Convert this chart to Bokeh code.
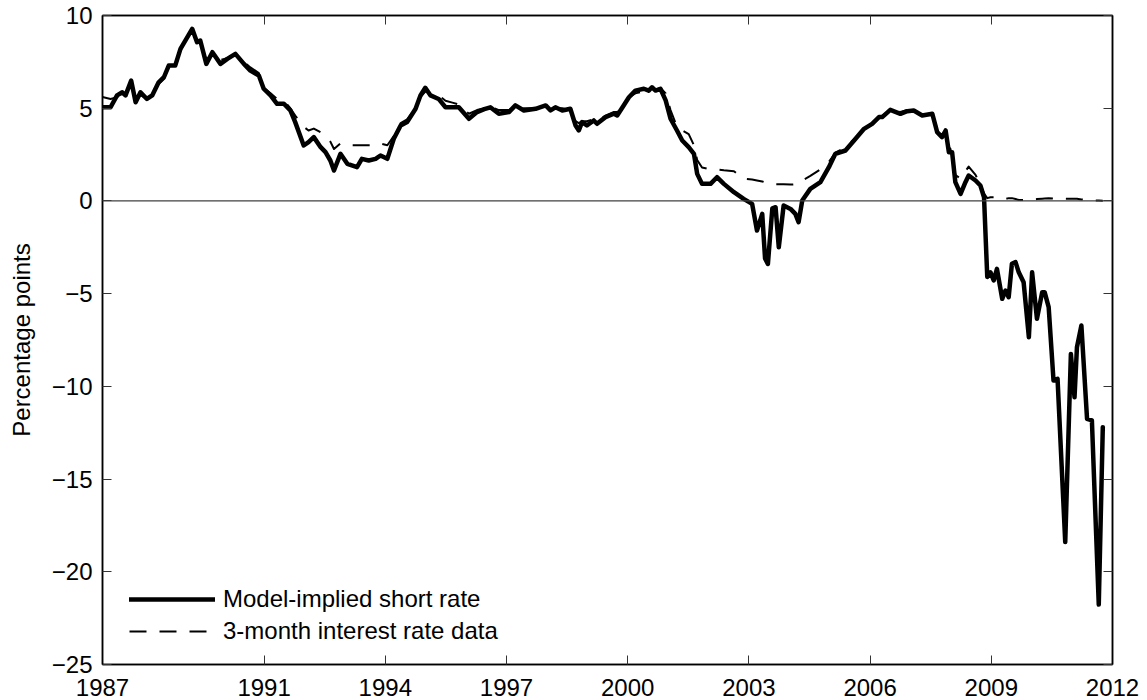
from bokeh.plotting import figure
from bokeh.models import FixedTicker, LinearAxis, Span, Legend, LegendItem, Range1d
from bokeh.embed import file_html
from bokeh.resources import INLINE

# ---------------- data ----------------
dates = [
    1987.00, 1987.20, 1987.36, 1987.49, 1987.57, 1987.71, 1987.82, 1987.94,
    1988.10, 1988.23, 1988.39, 1988.52, 1988.64, 1988.80, 1988.93, 1989.05,
    1989.22, 1989.34, 1989.42, 1989.57, 1989.72, 1989.92, 1990.09, 1990.29,
    1990.50, 1990.66, 1990.87, 1990.99, 1991.16, 1991.32, 1991.49, 1991.65,
    1991.77, 1991.98, 1992.10, 1992.23, 1992.40, 1992.52, 1992.64, 1992.73,
    1992.89, 1993.06, 1993.30, 1993.42, 1993.59, 1993.76, 1993.88, 1994.05,
    1994.21, 1994.38, 1994.54, 1994.75, 1994.87, 1994.99, 1995.12, 1995.32,
    1995.49, 1995.66, 1995.82, 1996.07, 1996.27, 1996.45, 1996.60, 1996.81,
    1997.06, 1997.22, 1997.43, 1997.72, 1997.97, 1998.09, 1998.21, 1998.38,
    1998.58, 1998.71, 1998.79, 1998.87, 1998.99, 1999.16, 1999.24, 1999.45,
    1999.66, 1999.74, 1999.90, 2000.03, 2000.19, 2000.40, 2000.52, 2000.60,
    2000.69, 2000.81, 2000.94, 2001.06, 2001.22, 2001.35, 2001.51, 2001.64,
    2001.72, 2001.84, 2002.05, 2002.21, 2002.38, 2002.63, 2002.87, 2003.08,
    2003.20, 2003.33, 2003.40, 2003.47, 2003.58, 2003.66, 2003.74, 2003.86,
    2004.03, 2004.15, 2004.23, 2004.32, 2004.52, 2004.77, 2004.98, 2005.14,
    2005.39, 2005.64, 2005.85, 2006.05, 2006.22, 2006.30, 2006.50, 2006.75,
    2006.92, 2007.08, 2007.29, 2007.54, 2007.66, 2007.78, 2007.87, 2007.95,
    2008.03, 2008.11, 2008.24, 2008.36, 2008.44, 2008.61, 2008.73, 2008.82,
    2008.90, 2008.98, 2009.06, 2009.14, 2009.27, 2009.35, 2009.43, 2009.51,
    2009.60, 2009.68, 2009.80, 2009.93, 2010.01, 2010.13, 2010.26, 2010.32,
    2010.42, 2010.54, 2010.64, 2010.83, 2010.97, 2011.06, 2011.12, 2011.23,
    2011.37, 2011.49, 2011.66, 2011.76,
]

model_rate = [
    5.05, 5.05, 5.69, 5.86, 5.69, 6.49, 5.32, 5.86,
    5.50, 5.69, 6.40, 6.67, 7.30, 7.30, 8.20, 8.65,
    9.28, 8.56, 8.65, 7.39, 8.02, 7.39, 7.66, 7.93,
    7.39, 7.03, 6.76, 6.05, 5.69, 5.24, 5.24, 4.88,
    4.25, 2.99, 3.17, 3.44, 2.90, 2.63, 2.18, 1.64,
    2.54, 2.00, 1.82, 2.27, 2.18, 2.27, 2.45, 2.27,
    3.35, 4.07, 4.25, 4.97, 5.69, 6.10, 5.69, 5.50,
    5.05, 5.05, 5.05, 4.43, 4.79, 4.95, 5.05, 4.70,
    4.79, 5.15, 4.88, 4.97, 5.15, 4.88, 5.05, 4.88,
    4.97, 4.07, 3.80, 4.25, 4.07, 4.34, 4.16, 4.52,
    4.70, 4.61, 5.15, 5.59, 5.95, 6.05, 5.95, 6.13,
    5.95, 6.05, 5.42, 4.43, 3.80, 3.26, 2.90, 2.54,
    1.46, 0.92, 0.92, 1.28, 0.92, 0.47, 0.11, -0.16,
    -1.60, -0.70, -3.10, -3.40, -0.40, -0.34, -2.50, -0.25,
    -0.43, -0.70, -1.15, 0.02, 0.65, 1.01, 1.82, 2.54,
    2.72, 3.35, 3.89, 4.16, 4.52, 4.52, 4.91, 4.70,
    4.84, 4.88, 4.61, 4.70, 3.71, 3.44, 3.80, 2.63,
    2.63, 1.01, 0.38, 1.01, 1.37, 1.10, 0.83, 0.20,
    -4.10, -3.85, -4.29, -3.66, -5.28, -4.83, -5.19, -3.39,
    -3.30, -3.85, -4.39, -7.35, -3.85, -6.36, -4.92, -4.92,
    -5.73, -9.69, -9.60, -18.40, -8.25, -10.59, -7.89, -6.72,
    -11.75, -11.84, -21.77, -12.20,
]

tbill_rate = [
    5.60, 5.50, 5.60, 5.80, 5.80, 6.40, 5.40, 5.70,
    5.50, 5.70, 6.30, 6.60, 7.20, 7.30, 8.10, 8.60,
    9.20, 8.60, 8.60, 7.60, 7.90, 7.60, 7.70, 7.90,
    7.50, 7.20, 6.90, 6.10, 5.80, 5.50, 5.40, 5.00,
    4.60, 4.00, 3.80, 3.90, 3.70, 3.50, 3.20, 2.80,
    3.10, 3.00, 3.00, 3.00, 3.00, 3.00, 3.10, 3.00,
    3.50, 4.20, 4.40, 5.00, 5.60, 5.90, 5.80, 5.70,
    5.40, 5.30, 5.20, 4.70, 4.90, 5.00, 5.10, 4.90,
    4.90, 5.10, 5.00, 5.00, 5.10, 5.00, 5.00, 5.00,
    4.90, 4.30, 4.20, 4.30, 4.30, 4.40, 4.30, 4.60,
    4.80, 4.80, 5.20, 5.60, 5.80, 5.90, 6.00, 6.10,
    6.00, 6.10, 5.80, 4.90, 4.00, 3.80, 3.60, 3.00,
    2.20, 1.80, 1.70, 1.70, 1.65, 1.60, 1.20, 1.15,
    1.10, 1.05, 1.00, 0.95, 0.90, 0.90, 0.90, 0.90,
    0.88, 0.90, 0.95, 1.10, 1.35, 1.70, 2.10, 2.60,
    2.90, 3.40, 3.90, 4.20, 4.50, 4.60, 4.90, 4.80,
    4.90, 4.90, 4.70, 4.70, 3.90, 3.80, 3.60, 2.90,
    2.70, 1.40, 1.20, 1.60, 1.85, 1.40, 0.90, 0.40,
    0.15, 0.20, 0.20, 0.20, 0.15, 0.10, 0.15, 0.15,
    0.10, 0.05, 0.05, 0.05, 0.08, 0.10, 0.12, 0.13,
    0.15, 0.13, 0.13, 0.12, 0.12, 0.12, 0.12, 0.08,
    0.05, 0.03, 0.02, 0.01,
]

x_ticks = [1987, 1991, 1994, 1997, 2000, 2003, 2006, 2009, 2012]
y_ticks = [-25, -20, -15, -10, -5, 0, 5, 10]
series_labels = ["Model-implied short rate", "3-month interest rate data"]
y_title = "Percentage points"

FONT = "Liberation Sans"
FS = "24px"

# ---------------- figure ----------------
p = figure(
    frame_width=1010, frame_height=649,
    x_range=Range1d(1987, 2012), y_range=Range1d(-25, 10),
    output_backend="svg", toolbar_location=None,
    min_border_left=102, min_border_top=15, min_border_right=34, min_border_bottom=35,
)
p.grid.visible = False
p.outline_line_color = "black"
p.outline_line_width = 1.5
p.background_fill_color = "white"
p.border_fill_color = "white"


def style_axis(ax, ticks, show_labels=True):
    ax.ticker = FixedTicker(ticks=ticks)
    ax.axis_line_color = "black"
    ax.axis_line_width = 1.5
    ax.major_tick_in = 9
    ax.major_tick_out = 0
    ax.major_tick_line_color = "#333333"
    ax.major_tick_line_width = 1
    ax.minor_tick_line_color = None
    ax.major_label_text_font = FONT
    if show_labels:
        ax.major_label_text_font_size = FS
        ax.major_label_text_color = "black"
    else:
        # mirrored ticks only: labels are not painted at all
        ax.major_label_text_font_size = "1px"
        ax.major_label_text_color = None
        ax.major_label_standoff = 0


xa = p.xaxis[0]
style_axis(xa, x_ticks)
xa.major_label_standoff = 14

ya = p.yaxis[0]
style_axis(ya, y_ticks)
ya.major_label_standoff = 10
ya.axis_label = y_title
ya.axis_label_text_font = FONT
ya.axis_label_text_font_size = FS
ya.axis_label_text_font_style = "normal"
ya.axis_label_text_color = "black"
ya.axis_label_standoff = 14

top_ax = LinearAxis()
style_axis(top_ax, x_ticks, show_labels=False)
p.add_layout(top_ax, "above")

right_ax = LinearAxis()
style_axis(right_ax, y_ticks, show_labels=False)
p.add_layout(right_ax, "right")

# zero line
p.add_layout(Span(location=0, dimension="width", line_color="#404040", line_width=1.2))

# series
r_dash = p.line(dates, tbill_rate, line_color="black", line_width=2,
                line_dash="17 13", line_join="round")
r_model = p.line(dates, model_rate, line_color="black", line_width=4.5,
                 line_join="round", line_cap="round")

legend = Legend(
    items=[LegendItem(label=series_labels[0], renderers=[r_model]),
           LegendItem(label=series_labels[1], renderers=[r_dash])],
    location=(27, 19),
    orientation="vertical",
    border_line_color=None,
    background_fill_alpha=0,
    padding=0, margin=0,
    spacing=4,
    glyph_width=86, glyph_height=28,
    label_height=28, label_standoff=8,
    label_text_font=FONT, label_text_font_size=FS,
    label_text_color="black",
)
p.add_layout(legend, "center")

open("out.html", "w").write(file_html(p, INLINE))
